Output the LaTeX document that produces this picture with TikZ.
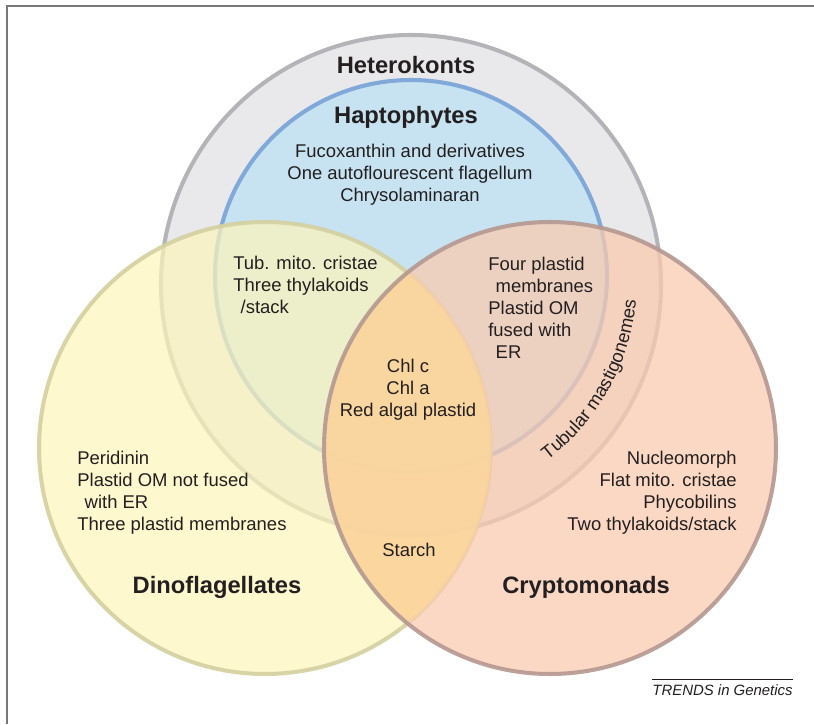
\documentclass[tikz,border=0pt]{standalone}
\usepackage{fontspec}
\setmainfont{Liberation Sans}
\usetikzlibrary{decorations.text,calc}

\begin{document}
\begin{tikzpicture}[x=0.02cm,y=0.02cm,
  every node/.style={text=inktext,inner sep=0pt},
  trait/.style={font=\fontsize{10.5}{12.5}\selectfont},
  group/.style={font=\fontsize{13.5}{16}\selectfont\bfseries},
  ring/.style={line width=2.3pt}]
\definecolor{inktext}{RGB}{35,31,32}
\definecolor{framegrey}{RGB}{120,120,120}
\definecolor{hetfill}{RGB}{233,233,235}
\definecolor{hetline}{RGB}{180,180,184}
\definecolor{hapfill}{RGB}{199,227,241}
\definecolor{hapline}{RGB}{128,168,216}
\definecolor{dinofill}{RGB}{253,245,188}
\definecolor{dinoline}{RGB}{212,208,160}
\definecolor{cryfill}{RGB}{249,203,176}
\definecolor{cryline}{RGB}{181,152,144}
\definecolor{lensfill}{RGB}{252,214,150}
\useasboundingbox (0,0) rectangle (814,724);
\draw[framegrey,line width=1pt] (6,718) -- (814,718) ; % top rule
\draw[framegrey,line width=1pt] (7,0) -- (7,718) ; % left rule

\coordinate (hetc) at (411,439);
\coordinate (hapc) at (411,448);
\coordinate (dinoc) at (265,276);
\coordinate (cryc) at (550,276);

\draw[ring,fill=hetfill,draw=hetline] (hetc) circle (250) ; % Heterokonts
\draw[ring,fill=hapfill,draw=hapline] (hapc) circle (196) ; % Haptophytes
\draw[ring,fill=dinofill,draw=dinoline,fill opacity=0.72,draw opacity=0.9] (dinoc) circle (226) ; % Dinoflagellates
\fill[cryfill,fill opacity=0.75] (cryc) circle (226) ; % Cryptomonads
\begin{scope}
\clip (dinoc) circle (226);
\fill[lensfill,fill opacity=0.7] (cryc) circle (226) ; % overlap
\end{scope}
\draw[ring,cryline,draw opacity=0.9] (cryc) circle (226) ;

\node[group] (hetname) at (406,659) {Heterokonts};
\node[group] (hapname) at (406,607) {Haptophytes};
\node[group] (dinoname) at (217,137) {Dinoflagellates};
\node[group] (cryname) at (586,137) {Cryptomonads};

\node[trait,align=center] (haptraits) at (410,549) {Fucoxanthin and derivatives\\One autoflourescent flagellum\\Chrysolaminaran};
\node[trait,align=left,anchor=west] (dinohap) at (233,439) {Tub. mito. cristae\\Three thylakoids\\\hspace*{0.4em}/stack};
\node[trait,align=left,anchor=west] (cryhap) at (488,416) {Four plastid\\\hspace*{0.4em}membranes\\Plastid OM\\fused with\\\hspace*{0.4em}ER};
\node[trait,align=center] (shared) at (408,334) {Chl c\\Chl a\\Red algal plastid};
\node[trait,align=left,anchor=west] (dinotraits) at (77,231) {Peridinin\\Plastid OM not fused\\\hspace*{0.4em}with ER\\Three plastid membranes};
\node[trait,align=right,anchor=east] (crytraits) at (737,231) {Nucleomorph\\Flat mito. cristae\\Phycobilins\\Two thylakoids/stack};
\node[trait] (starch) at (409,174) {Starch};

\path[decorate,decoration={text along path,text align=center,text color=inktext,
  text={|\fontsize{10.5}{12}\selectfont|Tubular mastigonemes}}]
  ($(hetc)+(0,5)+(-60:226)$) arc[start angle=-60,end angle=2,radius=226] ; % Heterokonts and Cryptomonads

\node[font=\fontsize{8.5}{10}\selectfont\itshape,anchor=east] (trends) at (793,34) {TRENDS in Genetics};
\draw[inktext,line width=0.5pt] ([yshift=2.5pt]trends.north west) -- ([yshift=2.5pt]trends.north east) ;
\end{tikzpicture}
\end{document}
